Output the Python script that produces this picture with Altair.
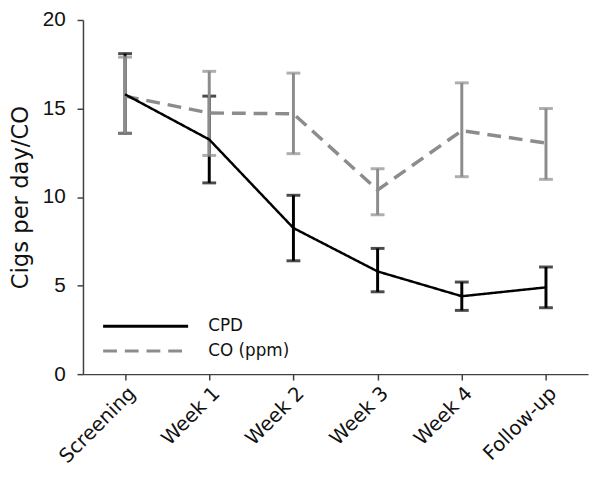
import altair as alt
import pandas as pd

visits = ["Screening", "Week 1", "Week 2", "Week 3", "Week 4", "Follow-up"]
series = ["CPD", "CO (ppm)"]

cpd_mean = [15.8, 13.25, 8.25, 5.8, 4.4, 4.9]
cpd_low = [13.6, 10.8, 6.4, 4.65, 3.6, 3.75]
cpd_high = [18.1, 15.7, 10.1, 7.1, 5.2, 6.05]

co_mean = [15.7, 14.75, 14.7, 10.4, 13.75, 13.05]
co_low = [13.6, 12.35, 12.45, 9.0, 11.15, 11.0]
co_high = [17.9, 17.1, 17.0, 11.6, 16.45, 15.0]

rows = []
for i, v in enumerate(visits):
    rows.append({"visit": v, "series": "CPD", "mean": cpd_mean[i], "low": cpd_low[i], "high": cpd_high[i]})
for i, v in enumerate(visits):
    rows.append({"visit": v, "series": "CO (ppm)", "mean": co_mean[i], "low": co_low[i], "high": co_high[i]})
df = pd.DataFrame(rows)

FONT = "Liberation Sans"
WIDE = "DejaVu Sans"
GRAY = "#8c8c8c"
AXC = "#404040"
TXT = "#111111"

x_enc = alt.X(
    "visit:N",
    sort=visits,
    scale=alt.Scale(type="point", domain=visits, padding=0.5),
    axis=alt.Axis(
        title=None, labelAngle=-45, labelAlign="right", labelBaseline="top",
        labelFontSize=20, labelFont=WIDE, labelColor=TXT, labelPadding=3,
        tickSize=6, tickColor=AXC, domainColor=AXC, tickWidth=1.5, domainWidth=1.5,
        grid=False,
    ),
)
y_scale = alt.Scale(domain=[0, 20], nice=False, zero=True)
y_axis = alt.Axis(
    title="Cigs per day/CO", titleFontSize=23, titleFont=WIDE, titleFontWeight="normal",
    titleColor=TXT, titlePadding=10, values=[0, 5, 10, 15, 20],
    labelFontSize=21, labelFont=FONT, labelColor=TXT, labelPadding=12,
    tickSize=6, tickColor=AXC, domainColor=AXC, tickWidth=1.5, domainWidth=1.5,
    grid=False,
)

# long horizontal stroke symbol: path spans -8..8 in unit radius, size chosen so it draws ~85px
legend = alt.Legend(
    title=None, orient="none", legendX=55, legendY=302, symbolType="M-8,0H8",
    symbolSize=116, symbolStrokeWidth=3, labelFontSize=17, labelFont=WIDE,
    labelColor=TXT, labelOffset=55, rowPadding=7, padding=0,
)
color_enc = alt.Color("series:N", scale=alt.Scale(domain=series, range=["#000000", GRAY]), legend=legend)
dash_enc = alt.StrokeDash("series:N", scale=alt.Scale(domain=series, range=[[1, 0], [14, 8]]), legend=legend)

base = alt.Chart(df)


def err_layers(name, col, width):
    sub = base.transform_filter(alt.datum.series == name)
    bar = sub.mark_rule(color=col, strokeWidth=width).encode(
        x=x_enc, y=alt.Y("low:Q", scale=y_scale, axis=y_axis), y2="high:Q"
    )
    lo = sub.mark_tick(color=col, size=14, thickness=width).encode(
        x=x_enc, y=alt.Y("low:Q", scale=y_scale, axis=y_axis)
    )
    hi = sub.mark_tick(color=col, size=14, thickness=width).encode(
        x=x_enc, y=alt.Y("high:Q", scale=y_scale, axis=y_axis)
    )
    return [bar, lo, hi]


co_line = base.transform_filter(alt.datum.series == "CO (ppm)").mark_line(
    strokeWidth=3.5
).encode(x=x_enc, y=alt.Y("mean:Q", scale=y_scale, axis=y_axis), color=color_enc, strokeDash=dash_enc)

cpd_line = base.transform_filter(alt.datum.series == "CPD").mark_line(
    strokeWidth=2.5
).encode(x=x_enc, y=alt.Y("mean:Q", scale=y_scale, axis=y_axis), color=color_enc, strokeDash=dash_enc)

layers = err_layers("CPD", "#000000", 3) + err_layers("CO (ppm)", GRAY, 3) + [co_line, cpd_line]

chart = alt.layer(*layers).properties(
    width=512, height=359,
    padding={"left": 76, "top": 9, "right": 5, "bottom": 92},
    autosize=alt.AutoSizeParams(type="none"),
    background="white",
).configure_view(stroke=None)

chart.save("out.html", embed_options={"renderer": "svg", "actions": False})
